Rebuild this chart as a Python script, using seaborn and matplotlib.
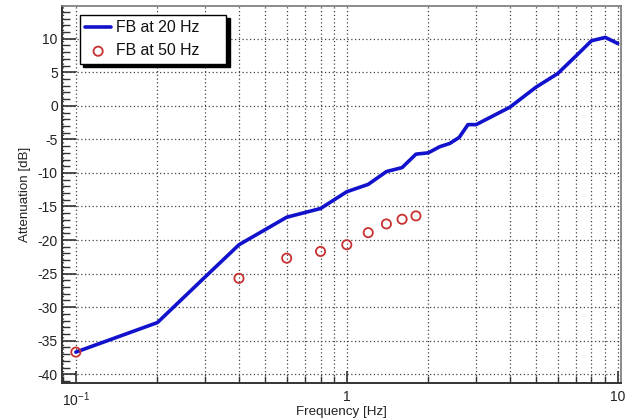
import numpy as np
import pandas as pd
import matplotlib
matplotlib.use("Agg")
import matplotlib.pyplot as plt
import matplotlib.ticker as mticker
import seaborn as sns

# data
freq_20 = [0.1, 0.2, 0.3, 0.4, 0.6, 0.8, 1.0, 1.2, 1.4, 1.6, 1.8, 2.0, 2.2, 2.4,
           2.6, 2.8, 3.0, 4.0, 5.0, 6.0, 7.0, 8.0, 9.0, 10.0]
att_20 = [-36.7, -32.3, -25.5, -20.7, -16.6, -15.3, -12.8, -11.7, -9.8, -9.2,
          -7.2, -7.0, -6.1, -5.6, -4.7, -2.8, -2.8, -0.2, 2.8, 4.8, 7.4, 9.7,
          10.2, 9.3]

freq_50 = [0.1, 0.4, 0.6, 0.8, 1.0, 1.2, 1.4, 1.6, 1.8]
att_50 = [-36.7, -25.7, -22.7, -21.7, -20.7, -18.9, -17.6, -16.9, -16.4]

x_major = [0.1, 1, 10]
x_major_labels = ["$10^{-1}$", "1", "10"]
y_major = [-40, -35, -30, -25, -20, -15, -10, -5, 0, 5, 10]

sns.set_style("ticks")
plt.rcParams["font.family"] = ["Liberation Sans", "DejaVu Sans"]
plt.rcParams["mathtext.fontset"] = "custom"
plt.rcParams["mathtext.rm"] = "Liberation Sans"
plt.rcParams["mathtext.it"] = "Liberation Sans"
plt.rcParams["axes.unicode_minus"] = False

fig = plt.figure(figsize=(6.29, 4.19), dpi=100)
ax = fig.add_axes([0.0986, 0.086, 0.889, 0.9])

df20 = pd.DataFrame({"f": freq_20, "a": att_20})
df50 = pd.DataFrame({"f": freq_50, "a": att_50})

sns.lineplot(data=df20, x="f", y="a", ax=ax, color="#1212cc", lw=2.6,
             sort=False, estimator=None, label="FB at 20 Hz", zorder=3)
sns.scatterplot(data=df50, x="f", y="a", ax=ax, marker="o", s=44,
                facecolor="none", edgecolor="#c83232", linewidth=1.3,
                label="FB at 50 Hz", zorder=4)

ax.set_xscale("log")
ax.set_xlim(0.0889, 10.3)
ax.set_ylim(-41.3, 14.9)

ax.xaxis.set_major_locator(mticker.FixedLocator(x_major))
ax.xaxis.set_major_formatter(mticker.FixedFormatter(x_major_labels))
ax.xaxis.set_minor_locator(mticker.LogLocator(base=10, subs=np.arange(2, 10)))
ax.xaxis.set_minor_formatter(mticker.NullFormatter())
ax.set_yticks(y_major)
ax.yaxis.set_minor_locator(mticker.MultipleLocator(1))

ax.tick_params(which="both", direction="in", colors="#333333",
               labelsize=10, labelcolor="#222222")
ax.tick_params(axis="x", which="major", length=9, width=1.2, pad=5)
ax.tick_params(axis="x", which="minor", length=5, width=1.0)
ax.tick_params(axis="y", which="major", length=10, width=1.2, pad=3)
ax.tick_params(axis="y", which="minor", length=6, width=1.0)

grid_kw = dict(color="#444444", linestyle=(0, (1, 2)), linewidth=0.9)
ax.grid(True, axis="x", which="both", **grid_kw)
ax.grid(True, axis="y", which="major", **grid_kw)

for side in ["left", "bottom"]:
    ax.spines[side].set_color("#333333")
    ax.spines[side].set_linewidth(1.4)
for side in ["top", "right"]:
    ax.spines[side].set_color("#777777")
    ax.spines[side].set_linewidth(1.2)

ax.set_xlabel("Frequency [Hz]", fontsize=9.6, color="#222222", labelpad=-2)
ax.set_ylabel("Attenuation [dB]", fontsize=9.6, color="#222222", labelpad=5)

leg = ax.legend(loc="upper left", bbox_to_anchor=(0.032, 0.976, 0.262, 0.0),
                mode="expand", fontsize=11.4, frameon=True, fancybox=False,
                shadow={"color": "black", "alpha": 1.0, "ox": 2.5, "oy": -2.5},
                edgecolor="black", framealpha=1, borderpad=0.35,
                handlelength=1.6, handletextpad=0.35, labelspacing=0.5,
                borderaxespad=0)
leg.get_frame().set_linewidth(1.0)
for t in leg.get_texts():
    t.set_color("#111111")

fig.savefig("out.png", dpi=100)
